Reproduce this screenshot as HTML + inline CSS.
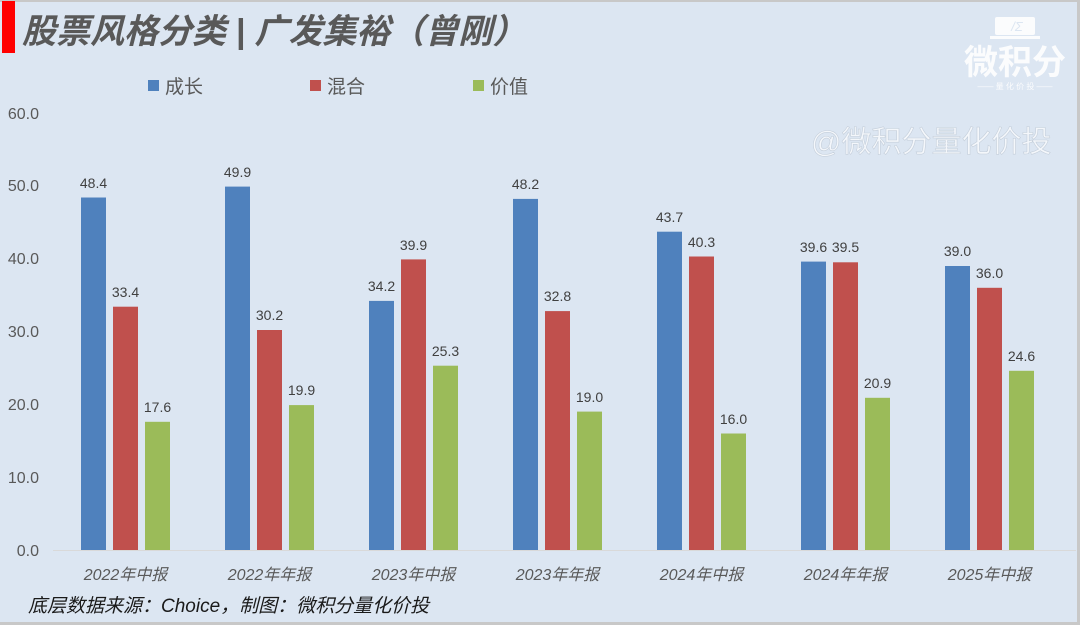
<!DOCTYPE html>
<html><head><meta charset="utf-8"><style>
body{margin:0;width:1080px;height:625px;overflow:hidden;background:#dce6f2}
svg{display:block;font-family:"Liberation Sans","Noto Sans CJK SC",sans-serif}
</style></head><body>
<svg width="1080" height="625" viewBox="0 0 1080 625">
<rect width="1080" height="625" fill="#dce6f2"/>
<rect x="0" y="0" width="1080" height="2" fill="#c8c8c8"/>
<rect x="1077" y="0" width="3" height="625" fill="#c8c8c8"/>
<rect x="0" y="622" width="1080" height="3" fill="#c8c8c8"/>
<rect x="2" y="1" width="13" height="52" fill="#ff0000"/>
<text x="22" y="43" font-size="34" font-weight="bold" font-style="italic" fill="#595959">股票风格分类 | 广发集裕（曾刚）</text>
<rect x="148" y="80" width="11" height="11" fill="#4f81bd"/><text x="165" y="93" font-size="19" fill="#595959">成长</text>
<rect x="310" y="80" width="11" height="11" fill="#c0504d"/><text x="327" y="93" font-size="19" fill="#595959">混合</text>
<rect x="473" y="80" width="11" height="11" fill="#9bbb59"/><text x="490" y="93" font-size="19" fill="#595959">价值</text>
<g fill="#ffffff" opacity="0.9">
<rect x="995" y="17" width="40" height="18" rx="2"/><rect x="990" y="36" width="50" height="3"/>
<text x="1017" y="31" font-size="13" fill="#dce6f2" text-anchor="middle" font-style="italic">/Σ</text>
<text x="1015" y="74" font-size="34" font-weight="bold" text-anchor="middle">微积分</text>
<text x="1015" y="89" font-size="8" text-anchor="middle">—— 量 化 价 投 ——</text>
</g>
<text x="811" y="152" font-size="30" fill="#f4f7fb" stroke="#c5cfdb" stroke-width="0.6">@微积分量化价投</text>
<g font-size="16" fill="#595959" text-anchor="end">
<text x="39" y="556">0.0</text><text x="39" y="483">10.0</text><text x="39" y="410">20.0</text><text x="39" y="337">30.0</text><text x="39" y="264">40.0</text><text x="39" y="191">50.0</text><text x="39" y="119">60.0</text>
</g>
<line x1="53" y1="550.5" x2="1076" y2="550.5" stroke="#d9d9d9" stroke-width="1"/>
<g fill="#4f81bd">
<rect x="81" y="197.5" width="25" height="352.5"/><rect x="225" y="186.6" width="25" height="363.4"/><rect x="369" y="300.9" width="25" height="249.1"/><rect x="513" y="198.9" width="25" height="351.1"/><rect x="657" y="231.7" width="25" height="318.3"/><rect x="801" y="261.6" width="25" height="288.4"/><rect x="945" y="266" width="25" height="284"/>
</g>
<g fill="#c0504d">
<rect x="113" y="306.7" width="25" height="243.3"/><rect x="257" y="330" width="25" height="220"/><rect x="401" y="259.4" width="25" height="290.6"/><rect x="545" y="311.1" width="25" height="238.9"/><rect x="689" y="256.5" width="25" height="293.5"/><rect x="833" y="262.3" width="25" height="287.7"/><rect x="977" y="287.8" width="25" height="262.2"/>
</g>
<g fill="#9bbb59">
<rect x="145" y="421.8" width="25" height="128.2"/><rect x="289" y="405.1" width="25" height="144.9"/><rect x="433" y="365.7" width="25" height="184.3"/><rect x="577" y="411.6" width="25" height="138.4"/><rect x="721" y="433.5" width="25" height="116.5"/><rect x="865" y="397.8" width="25" height="152.2"/><rect x="1009" y="370.8" width="25" height="179.2"/>
</g>
<g font-size="14" fill="#404040" text-anchor="middle">
<text x="93.5" y="188">48.4</text><text x="237.5" y="177">49.9</text><text x="381.5" y="291">34.2</text><text x="525.5" y="189">48.2</text><text x="669.5" y="222">43.7</text><text x="813.5" y="252">39.6</text><text x="957.5" y="256">39.0</text>
<text x="125.5" y="297">33.4</text><text x="269.5" y="320">30.2</text><text x="413.5" y="250">39.9</text><text x="557.5" y="301">32.8</text><text x="701.5" y="247">40.3</text><text x="845.5" y="252">39.5</text><text x="989.5" y="278">36.0</text>
<text x="157.5" y="412">17.6</text><text x="301.5" y="395">19.9</text><text x="445.5" y="356">25.3</text><text x="589.5" y="402">19.0</text><text x="733.5" y="424">16.0</text><text x="877.5" y="388">20.9</text><text x="1021.5" y="361">24.6</text>
</g>
<g font-size="16" fill="#595959" text-anchor="middle" font-style="italic">
<text x="125.5" y="580">2022年中报</text><text x="269.5" y="580">2022年年报</text><text x="413.5" y="580">2023年中报</text><text x="557.5" y="580">2023年年报</text><text x="701.5" y="580">2024年中报</text><text x="845.5" y="580">2024年年报</text><text x="989.5" y="580">2025年中报</text>
</g>
<text x="28" y="612" font-size="19" fill="#1a1a1a" font-style="italic">底层数据来源：Choice，制图：微积分量化价投</text>
</svg>
</body></html>
